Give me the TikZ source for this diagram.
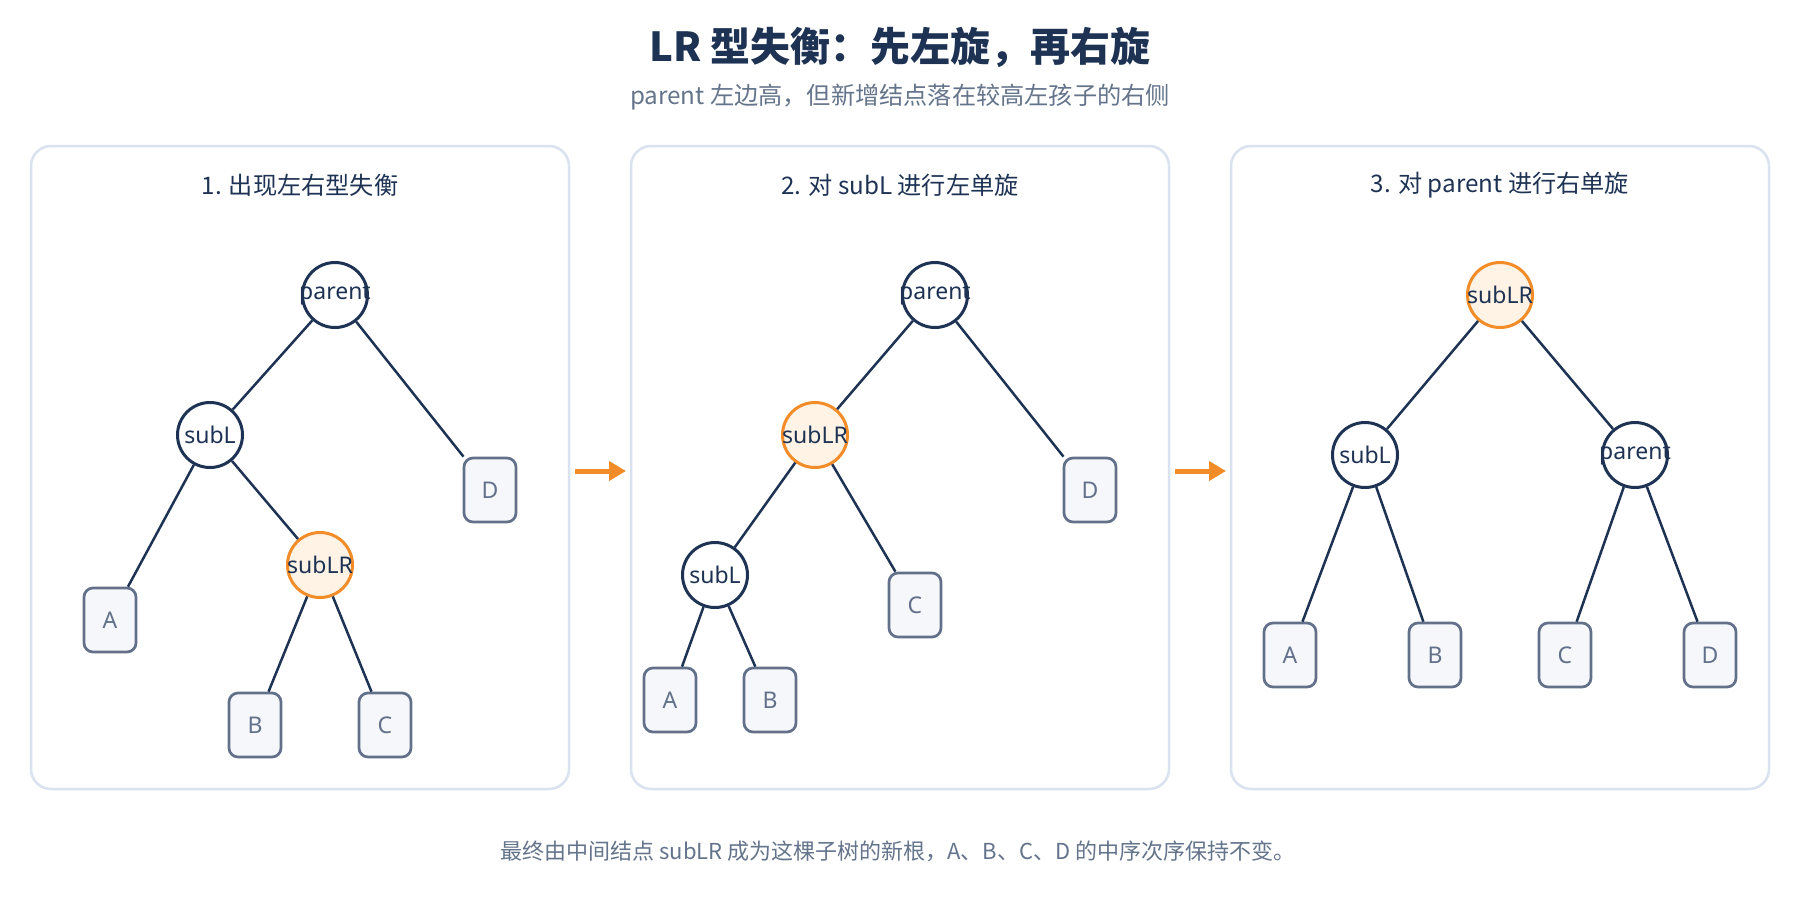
\documentclass[tikz,border=0pt]{standalone}
\usepackage{fontspec}
\setmainfont{Noto Sans}
\newfontfamily\cjk{Noto Sans CJK SC}
\usetikzlibrary{arrows.meta}
\definecolor{navy}{RGB}{30,51,84}
\definecolor{slate}{RGB}{100,116,139}
\definecolor{panelline}{RGB}{217,226,238}
\definecolor{boxline}{RGB}{98,112,138}
\definecolor{boxfill}{RGB}{245,247,251}
\definecolor{orng}{RGB}{242,140,40}
\definecolor{orngfill}{RGB}{255,243,230}
\begin{document}
\begin{tikzpicture}[x=1pt,y=-1pt,
 panel/.style={draw=panelline, line width=2.5pt, rounded corners=20pt, fill=white},
 tnode/.style={circle, draw=navy, line width=3pt, fill=white, minimum size=65pt, inner sep=0pt, text=navy, font=\fontsize{23}{28}\selectfont},
 hnode/.style={tnode, draw=orng, fill=orngfill},
 leaf/.style={rectangle, rounded corners=9pt, draw=boxline, fill=boxfill, line width=2.7pt, minimum width=52pt, minimum height=64pt, inner sep=0pt, text=boxline, font=\fontsize{23}{27}\selectfont},
 edge/.style={draw=navy, line width=2.5pt},
 flow/.style={draw=orng, line width=5pt, -{Triangle[length=17pt,width=19pt]}},
 ttl/.style={text=navy, font=\cjk\bfseries\fontsize{40}{48}\selectfont},
 sub/.style={text=slate, font=\cjk\fontsize{24.2}{29}\selectfont},
 ptitle/.style={text=navy, font=\cjk\fontsize{24.2}{29}\selectfont},
 foot/.style={text=slate, font=\cjk\fontsize{22}{27}\selectfont}
]
\useasboundingbox (0,0) rectangle (1800,900);
\fill[white] (0,0) rectangle (1800,900);

\node[ttl] (title) at (900,47) {LR 型失衡：先左旋，再右旋};
\node[sub] (subtitle) at (900,97) {parent 左边高，但新增结点落在较高左孩子的右侧};

\draw[panel] (31,146) rectangle (569,789);
\draw[panel] (631,146) rectangle (1169,789);
\draw[panel] (1231,146) rectangle (1769,789);

\node[ptitle] (t1) at (300,185) {1. 出现左右型失衡};
\node[ptitle] (t2) at (900,185) {2. 对 subL 进行左单旋};
\node[ptitle] (t3) at (1500,185) {3. 对 parent 进行右单旋};

% tree 1
\node[tnode] (p1) at (335,295) {\makebox[0pt]{parent}};
\node[tnode] (sl1) at (210,435) {\makebox[0pt]{subL}};
\node[hnode] (lr1) at (320,565) {\makebox[0pt]{subLR}};
\node[leaf] (A1) at (110,620) {A};
\node[leaf] (B1) at (255,725) {B};
\node[leaf] (C1) at (385,725) {C};
\node[leaf] (D1) at (490,490) {D};
\draw[edge] (p1) -- (sl1);
\draw[edge] (p1) -- (D1);
\draw[edge] (sl1) -- (A1);
\draw[edge] (sl1) -- (lr1);
\draw[edge] (lr1) -- (B1);
\draw[edge] (lr1) -- (C1);

% tree 2
\node[tnode] (p2) at (935,295) {\makebox[0pt]{parent}};
\node[hnode] (lr2) at (815,435) {\makebox[0pt]{subLR}};
\node[tnode] (sl2) at (715,575) {\makebox[0pt]{subL}};
\node[leaf] (A2) at (670,700) {A};
\node[leaf] (B2) at (770,700) {B};
\node[leaf] (C2) at (915,605) {C};
\node[leaf] (D2) at (1090,490) {D};
\draw[edge] (p2) -- (lr2);
\draw[edge] (p2) -- (D2);
\draw[edge] (lr2) -- (sl2);
\draw[edge] (lr2) -- (C2);
\draw[edge] (sl2) -- (A2);
\draw[edge] (sl2) -- (B2);

% tree 3
\node[hnode] (lr3) at (1500,295) {\makebox[0pt]{subLR}};
\node[tnode] (sl3) at (1365,455) {\makebox[0pt]{subL}};
\node[tnode] (p3) at (1635,455) {\makebox[0pt]{parent}};
\node[leaf] (A3) at (1290,655) {A};
\node[leaf] (B3) at (1435,655) {B};
\node[leaf] (C3) at (1565,655) {C};
\node[leaf] (D3) at (1710,655) {D};
\draw[edge] (lr3) -- (sl3);
\draw[edge] (lr3) -- (p3);
\draw[edge] (sl3) -- (A3);
\draw[edge] (sl3) -- (B3);
\draw[edge] (p3) -- (C3);
\draw[edge] (p3) -- (D3);

% flow arrows
\coordinate (f1s) at (575,471);
\coordinate (f1e) at (626,471);
\coordinate (f2s) at (1175,471);
\coordinate (f2e) at (1226,471);
\draw[flow] (f1s) -- (f1e);
\draw[flow] (f2s) -- (f2e);

\node[foot] (footer) at (898,851) {最终由中间结点 subLR 成为这棵子树的新根，A、B、C、D 的中序次序保持不变。};
\end{tikzpicture}
\end{document}
